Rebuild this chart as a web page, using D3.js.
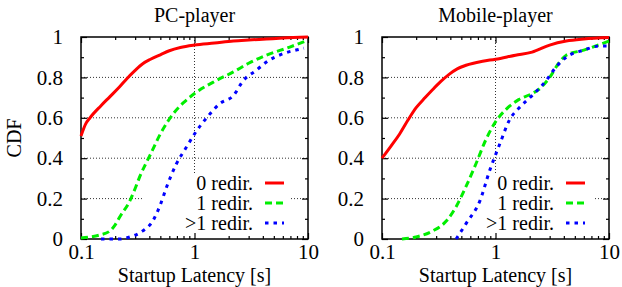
<!DOCTYPE html>
<html>
<head>
<meta charset="utf-8">
<title>Startup latency CDF</title>
<script src="https://d3js.org/d3.v7.min.js"></script>
<style>
  body { margin: 0; background: #fff; }
  svg text { font-family: 'Liberation Serif', 'Times New Roman', serif !important; fill: #000; }
</style>
</head>
<body>
<div id="chart"></div>
<script>
// ******* Data (latency [s], CDF) *******
const panelTitles = ["PC-player", "Mobile-player"];
const seriesNames = ["0 redir.", "1 redir.", ">1 redir."];
const xTickLabels = ["0.1", "1", "10"];
const yTickLabels = ["0", "0.2", "0.4", "0.6", "0.8", "1"];

const pcZero = [[0.1,0.51],[0.11,0.57],[0.12,0.60],[0.15,0.66],[0.18,0.705],[0.22,0.755],[0.25,0.79],
  [0.3,0.835],[0.35,0.868],[0.41,0.89],[0.5,0.912],[0.6,0.932],[0.75,0.948],[1,0.96],[1.5,0.97],
  [2.2,0.98],[3,0.985],[4.3,0.99],[6,0.995],[10,1.0]];
const pcOne = [[0.1,0.005],[0.12,0.01],[0.147,0.02],[0.18,0.04],[0.2,0.07],[0.22,0.11],[0.27,0.19],
  [0.3,0.25],[0.33,0.31],[0.37,0.37],[0.41,0.42],[0.5,0.52],[0.65,0.62],[0.8,0.675],[1,0.72],
  [1.56,0.785],[2.2,0.827],[3,0.87],[4.3,0.91],[6.9,0.95],[10,0.985]];
const pcMulti = [[0.15,0.0],[0.22,0.0],[0.27,0.01],[0.35,0.04],[0.43,0.09],[0.5,0.17],[0.57,0.26],
  [0.69,0.37],[0.85,0.455],[1,0.52],[1.28,0.60],[1.67,0.67],[2.2,0.71],[2.7,0.785],[3.5,0.835],
  [4.3,0.876],[6,0.917],[8.5,0.94],[9.2,0.945]];

const mobZero = [[0.1,0.40],[0.12,0.46],[0.143,0.52],[0.17,0.59],[0.2,0.65],[0.24,0.70],[0.28,0.74],
  [0.33,0.78],[0.39,0.815],[0.46,0.842],[0.55,0.86],[0.77,0.88],[1,0.89],[1.5,0.91],[2.1,0.925],
  [3,0.96],[4.2,0.98],[6,0.99],[10,0.997]];
const mobOne = [[0.15,0.0],[0.2,0.01],[0.28,0.04],[0.37,0.09],[0.45,0.16],[0.55,0.26],[0.67,0.37],
  [0.82,0.49],[1,0.58],[1.23,0.64],[1.6,0.69],[2.1,0.72],[2.4,0.74],[3,0.80],[3.6,0.87],
  [4.2,0.91],[6,0.935],[10,0.98]];
const mobMulti = [[0.45,0.0],[0.55,0.076],[0.73,0.19],[0.89,0.34],[1.09,0.47],[1.33,0.59],
  [1.62,0.65],[2.1,0.71],[2.8,0.785],[3.4,0.85],[4.2,0.90],[6,0.935],[8.2,0.955],[10,0.955]];

const panelData = [[pcZero, pcOne, pcMulti], [mobZero, mobOne, mobMulti]];

// ******* Styles *******
const colors = ["#ff0000", "#00ee00", "#0000ff"];
const dashes = [null, "7,4", "3.5,5"];
const serif = "'Liberation Serif', 'Times New Roman', serif";
const width = 622, height = 287;
const panels = [
  { left: 81, right: 308, legendRight: 253, boxLeft: 143, boxRight: 290 },
  { left: 382, right: 609, legendRight: 554, boxLeft: 463, boxRight: 594 }
];
const plotTop = 37, plotBottom = 239;

const svg = d3.select("#chart").append("svg")
  .attr("width", width).attr("height", height);

const y = d3.scaleLinear().domain([0, 1]).range([plotBottom, plotTop]);

// y-axis label
svg.append("text")
  .attr("transform", `translate(21, ${(plotTop + plotBottom) / 2}) rotate(-90)`)
  .attr("text-anchor", "middle")
  .style("font-family", serif).style("font-size", "20px")
  .text("CDF");

panels.forEach((p, i) => {
  const x = d3.scaleLog().domain([0.1, 10]).range([p.left, p.right]);
  const g = svg.append("g");

  // grid
  const gridY = [0.2, 0.4, 0.6, 0.8];
  g.selectAll(".gy").data(gridY).enter().append("line")
    .attr("x1", p.left).attr("x2", p.right)
    .attr("y1", d => y(d)).attr("y2", d => y(d))
    .attr("stroke", "#333").attr("stroke-width", 1).attr("stroke-dasharray", "1,2");
  g.append("line")
    .attr("x1", x(1)).attr("x2", x(1)).attr("y1", plotTop).attr("y2", plotBottom)
    .attr("stroke", "#333").attr("stroke-width", 1).attr("stroke-dasharray", "1,2");

  // legend background (opaque key)
  g.append("rect")
    .attr("x", p.boxLeft).attr("y", 173)
    .attr("width", p.boxRight - p.boxLeft).attr("height", plotBottom - 173 - 1)
    .attr("fill", "#fff");

  // ticks
  const minorX = [];
  [0.1, 1].forEach(d => { for (let k = 2; k <= 9; k++) minorX.push(d * k); });
  const majorX = [0.1, 1, 10];
  const majorY = [0, 0.2, 0.4, 0.6, 0.8, 1];
  const minorY = [0.1, 0.3, 0.5, 0.7, 0.9];

  g.append("g").attr("transform", `translate(0, ${plotBottom})`)
    .call(d3.axisBottom(x).tickValues(majorX).tickSize(-6).tickPadding(5)
      .tickFormat((d, k) => xTickLabels[k]));
  g.append("g").attr("transform", `translate(0, ${plotBottom})`)
    .call(d3.axisBottom(x).tickValues(minorX).tickSize(-3).tickFormat(""));
  g.append("g").attr("transform", `translate(0, ${plotTop})`)
    .call(d3.axisTop(x).tickValues(majorX).tickSize(-6).tickFormat(""));
  g.append("g").attr("transform", `translate(0, ${plotTop})`)
    .call(d3.axisTop(x).tickValues(minorX).tickSize(-3).tickFormat(""));

  g.append("g").attr("transform", `translate(${p.left}, 0)`)
    .call(d3.axisLeft(y).tickValues(majorY).tickSize(-6).tickPadding(18)
      .tickFormat((d, k) => yTickLabels[k]));
  g.append("g").attr("transform", `translate(${p.left}, 0)`)
    .call(d3.axisLeft(y).tickValues(minorY).tickSize(-3).tickFormat(""));
  g.append("g").attr("transform", `translate(${p.right}, 0)`)
    .call(d3.axisRight(y).tickValues(majorY).tickSize(-6).tickFormat(""));
  g.append("g").attr("transform", `translate(${p.right}, 0)`)
    .call(d3.axisRight(y).tickValues(minorY).tickSize(-3).tickFormat(""));

  g.selectAll(".domain").remove();
  g.selectAll("g").attr("font-family", null).attr("font-size", null);
  g.selectAll(".tick line").attr("stroke", "#000").attr("stroke-width", 1.2);
  g.selectAll(".tick text")
    .style("font-family", serif)
    .style("font-size", "21px").attr("fill", "#000");

  // frame
  g.append("rect")
    .attr("x", p.left).attr("y", plotTop)
    .attr("width", p.right - p.left).attr("height", plotBottom - plotTop)
    .attr("fill", "none").attr("stroke", "#000").attr("stroke-width", 1.5);

  // curves
  const line = d3.line().x(d => x(d[0])).y(d => y(d[1])).curve(d3.curveMonotoneX);
  panelData[i].forEach((s, k) => {
    g.append("path").datum(s)
      .attr("d", line)
      .attr("fill", "none")
      .attr("stroke", colors[k])
      .attr("stroke-width", 3)
      .attr("stroke-dasharray", dashes[k]);
  });

  // legend
  seriesNames.forEach((name, k) => {
    const ly = 183 + k * 20;
    g.append("text")
      .attr("x", p.legendRight).attr("y", ly)
      .attr("dy", "0.35em")
      .attr("text-anchor", "end")
      .style("font-family", serif).style("font-size", "20px")
      .text(name);
    g.append("line")
      .attr("x1", p.legendRight + 12).attr("x2", p.legendRight + 31)
      .attr("y1", ly).attr("y2", ly)
      .attr("stroke", colors[k]).attr("stroke-width", 3)
      .attr("stroke-dasharray", dashes[k]);
  });

  // title and x label
  const cx = (p.left + p.right) / 2;
  svg.append("text").attr("x", cx).attr("y", 22)
    .attr("text-anchor", "middle")
    .style("font-family", serif).style("font-size", "20px")
    .text(panelTitles[i]);
  svg.append("text").attr("x", cx).attr("y", 282)
    .attr("text-anchor", "middle")
    .style("font-family", serif).style("font-size", "20px")
    .text("Startup Latency [s]");
});
</script>
</body>
</html>
